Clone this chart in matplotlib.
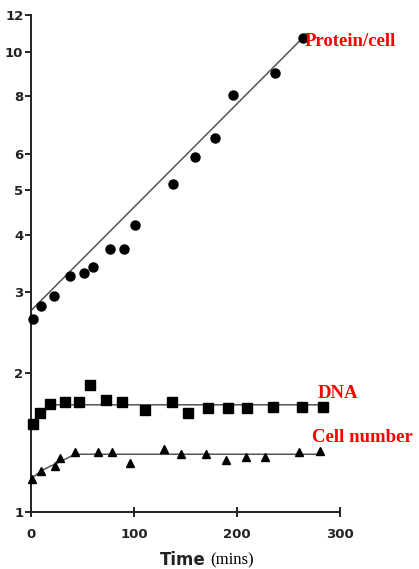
import matplotlib.pyplot as plt
import numpy as np

# protein per cell (circles)
prot_t = [2, 10, 22, 38, 51, 60, 77, 90, 101, 138, 159, 179, 196, 237, 264]
prot_v = [2.63, 2.81, 2.95, 3.26, 3.31, 3.40, 3.72, 3.72, 4.20, 5.16, 5.90, 6.51, 8.07, 8.99, 10.74]
prot_fit_t = [0, 264]
prot_fit_v = [2.74, 10.74]

# DNA (squares)
dna_t = [2, 9, 18, 33, 47, 57, 73, 88, 111, 137, 152, 172, 191, 210, 235, 263, 283]
dna_v = [1.55, 1.64, 1.72, 1.73, 1.73, 1.89, 1.75, 1.73, 1.67, 1.73, 1.64, 1.68, 1.68, 1.68, 1.69, 1.69, 1.69]
dna_fit_t = [0, 9, 18, 283]
dna_fit_v = [1.55, 1.64, 1.71, 1.71]

# cell number (triangles)
cell_t = [1, 10, 23, 28, 43, 65, 79, 96, 129, 146, 170, 189, 209, 227, 260, 281]
cell_v = [1.18, 1.23, 1.26, 1.31, 1.35, 1.35, 1.35, 1.28, 1.37, 1.34, 1.335, 1.30, 1.32, 1.315, 1.35, 1.357]
cell_fit_t = [0, 10, 23, 43, 281]
cell_fit_v = [1.18, 1.23, 1.27, 1.335, 1.335]

yticks = [1, 2, 3, 4, 5, 6, 8, 10, 12]
xticks = [0, 100, 200, 300]

fig = plt.figure(figsize=(4.19, 5.69), dpi=100)
ax = fig.add_axes([0.074, 0.1002, 0.7375, 0.8726])

line_col = '#555555'
ax.plot(prot_fit_t, prot_fit_v, color=line_col, lw=1.1, zorder=1)
ax.plot(dna_fit_t, dna_fit_v, color=line_col, lw=1.1, zorder=1)
ax.plot(cell_fit_t, cell_fit_v, color=line_col, lw=1.1, zorder=1)

ax.plot(prot_t, prot_v, 'o', color='black', ms=6.5, zorder=3, clip_on=False)
ax.plot(dna_t, dna_v, 's', color='black', ms=6.5, zorder=3, clip_on=False)
ax.plot(cell_t, cell_v, '^', color='black', ms=6, zorder=3, clip_on=False)

ax.set_yscale('log')
ax.set_ylim(1, 12)
ax.set_xlim(0, 300)
ax.set_yticks(yticks)
ax.set_yticklabels([str(v) for v in yticks])
ax.yaxis.set_minor_locator(plt.NullLocator())
ax.set_xticks(xticks)
ax.set_xticklabels([str(v) for v in xticks])

for side in ['top', 'right']:
    ax.spines[side].set_visible(False)
for side in ['left', 'bottom']:
    ax.spines[side].set_linewidth(1.4)
    ax.spines[side].set_color('#222222')

ax.tick_params(axis='y', direction='out', length=4, width=1.2, pad=1.5)
ax.tick_params(axis='x', direction='inout', length=7, width=1.2, pad=8)
for lab in ax.get_xticklabels() + ax.get_yticklabels():
    lab.set_fontweight('bold')
    lab.set_fontsize(9.5)
    lab.set_fontfamily('DejaVu Sans')
    lab.set_color('#222222')

red = dict(color='red', fontweight='bold', family='Liberation Serif', fontsize=13.5)
fig.text(305 / 419, 1 - 42 / 569, 'Protein/cell', ha='left', va='center', **red)
fig.text(318 / 419, 1 - 393 / 569, 'DNA', ha='left', va='center', **red)
fig.text(312 / 419, 1 - 437 / 569, 'Cell number', ha='left', va='center', **red)

fig.text(160 / 419, 1 - 560 / 569, 'Time', ha='left', va='center',
         fontweight='bold', fontsize=12, family='DejaVu Sans', color='#222222')
fig.text(210 / 419, 1 - 560 / 569, '(mins)', ha='left', va='center',
         fontsize=12, family='Liberation Serif', color='black')

fig.savefig('out.png', dpi=100)
